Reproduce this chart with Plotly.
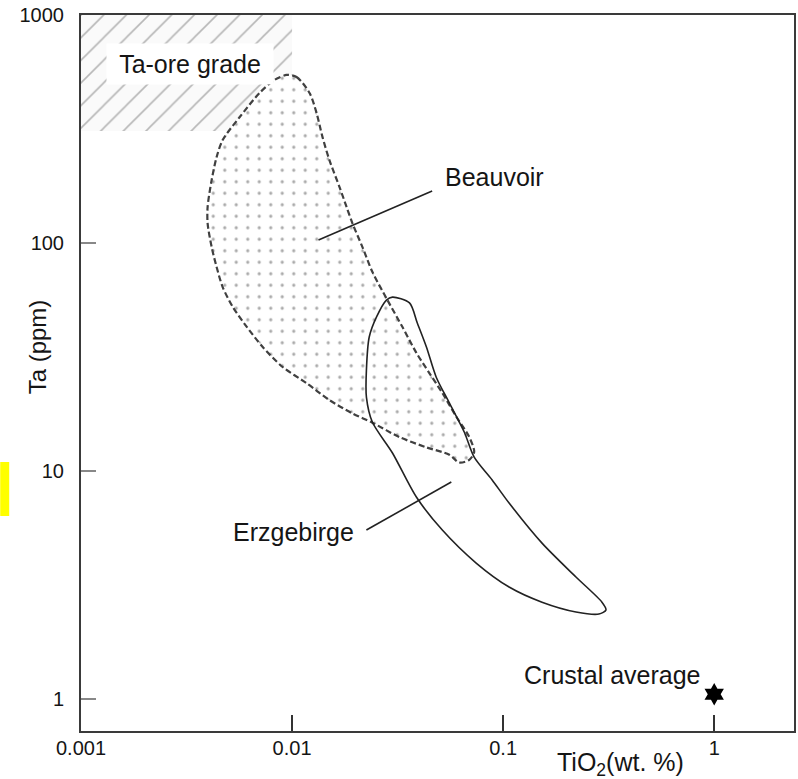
import plotly.graph_objects as go

# ---- data ----
# Ta-ore grade field (TiO2 wt.% , Ta ppm)
ore_tio2 = [0.001, 0.01, 0.01, 0.001, 0.001]
ore_ta = [310, 310, 1000, 1000, 310]

# Beauvoir field outline
beau_tio2 = [0.00942, 0.0105, 0.0121, 0.01306, 0.01393, 0.01503, 0.01678, 0.01812,
             0.01932, 0.02155, 0.02403, 0.0283, 0.0333, 0.0388, 0.0447, 0.0515,
             0.0600, 0.0691, 0.0729, 0.0691, 0.0619, 0.0556, 0.0433, 0.0322,
             0.0240, 0.0193, 0.0150, 0.0117, 0.00902, 0.00726, 0.00610, 0.00524,
             0.00469, 0.00439, 0.00416, 0.00398, 0.00398, 0.00416, 0.00439,
             0.00469, 0.00565, 0.00701, 0.00826, 0.00942]
beau_ta = [546, 535, 455, 372, 292, 231, 176, 144,
           122, 96, 74.6, 56.2, 42.9, 33.0, 26.9, 22.0,
           17.3, 14.1, 12.1, 11.2, 10.9, 11.8, 12.7, 14.1,
           16.3, 17.9, 20.5, 24.3, 28.6, 35.0, 42.9, 52.4,
           64.1, 78.5, 96, 122, 144, 189, 238,
           283, 357, 455, 519, 546]

# Erzgebirge field outline
erz_tio2 = [0.0299, 0.0360, 0.0392, 0.0433, 0.0482, 0.0556, 0.0655, 0.0729,
            0.0887, 0.1067, 0.1528, 0.2213, 0.2939, 0.307, 0.2844, 0.2213,
            0.1528, 0.1067, 0.0745, 0.0515, 0.0388, 0.0299, 0.0240, 0.0225,
            0.0225, 0.0232, 0.0251, 0.0280, 0.0299]
erz_ta = [57.9, 54.6, 44.6, 35.0, 25.8, 19.9, 14.8, 11.5,
          9.14, 7.24, 4.83, 3.43, 2.66, 2.46, 2.36, 2.41,
          2.66, 3.10, 3.95, 5.51, 7.69, 12.0, 16.4, 21.1,
          27.7, 38.7, 47.3, 56.2, 57.9]

# leader lines
beau_ptr_tio2 = [0.01334, 0.0461]
beau_ptr_ta = [103, 169]
erz_ptr_tio2 = [0.0225, 0.0568]
erz_ptr_ta = [5.51, 8.95]

# crustal average
crust_tio2 = [1.0]
crust_ta = [1.05]

x_tickvals = [0.001, 0.01, 0.1, 1]
x_ticktext = ["0.001", "0.01", "0.1", "1"]
y_tickvals = [1, 10, 100, 1000]
y_ticktext = ["1", "10", "100", "1000"]

FONT = "Liberation Sans, Arial, Helvetica, sans-serif"
TXT = "#151515"

fig = go.Figure()

fig.add_trace(go.Scatter(
    x=ore_tio2, y=ore_ta, mode="lines", fill="toself",
    line=dict(width=0, color="rgba(0,0,0,0)"),
    fillpattern=dict(shape="/", size=16, solidity=0.1,
                     fgcolor="#727272", bgcolor="#fafafa"),
    hoverinfo="skip", showlegend=False))

fig.add_trace(go.Scatter(
    x=beau_tio2, y=beau_ta, mode="lines", fill="toself",
    line=dict(width=2.2, color="#404040", dash="6px,3px", shape="spline", smoothing=0.8),
    fillpattern=dict(shape=".", size=11.5, solidity=0.06,
                     fgcolor="#555555", bgcolor="white"),
    hoverinfo="skip", showlegend=False))

fig.add_trace(go.Scatter(
    x=erz_tio2, y=erz_ta, mode="lines",
    line=dict(width=1.6, color="#222222", shape="spline", smoothing=0.8),
    hoverinfo="skip", showlegend=False))

fig.add_trace(go.Scatter(
    x=beau_ptr_tio2, y=beau_ptr_ta, mode="lines",
    line=dict(width=1.6, color="#222222"), hoverinfo="skip", showlegend=False))
fig.add_trace(go.Scatter(
    x=erz_ptr_tio2, y=erz_ptr_ta, mode="lines",
    line=dict(width=1.6, color="#222222"), hoverinfo="skip", showlegend=False))

fig.add_trace(go.Scatter(
    x=crust_tio2, y=crust_ta, mode="markers",
    marker=dict(symbol="hexagram", size=17, color="black"),
    hoverinfo="skip", showlegend=False))

ann_font = dict(family=FONT, size=25, color=TXT)
fig.update_layout(
    width=798, height=779,
    margin=dict(l=81, r=2, t=15, b=48),
    paper_bgcolor="white", plot_bgcolor="white",
    font=dict(family=FONT, color=TXT),
    annotations=[
        dict(text="Ta-ore grade", xref="paper", yref="paper", x=0.1524, y=0.932,
             xanchor="center", yanchor="middle", showarrow=False, font=ann_font,
             bgcolor="white", borderpad=6, width=154),
        dict(text="Beauvoir", xref="paper", yref="paper", x=0.5077, y=0.7737,
             xanchor="left", yanchor="middle", showarrow=False, font=ann_font),
        dict(text="Erzgebirge", xref="paper", yref="paper", x=0.386, y=0.278,
             xanchor="right", yanchor="middle", showarrow=False, font=ann_font),
        dict(text="Crustal average", xref="paper", yref="paper", x=0.8713, y=0.0782,
             xanchor="right", yanchor="middle", showarrow=False, font=ann_font),
        dict(text="Ta (ppm)", xref="paper", yref="paper", x=-0.0615, y=0.536,
             xanchor="center", yanchor="middle", textangle=-90, showarrow=False,
             font=dict(family=FONT, size=24, color=TXT)),
        dict(text="TiO<sub>2</sub>(wt. %)", xref="paper", yref="paper", x=0.757, y=-0.046,
             xanchor="center", yanchor="middle", showarrow=False,
             font=dict(family=FONT, size=25, color=TXT)),
    ],
    shapes=[
        dict(type="rect", xref="paper", yref="paper", x0=-0.1133, x1=-0.1007,
             y0=0.3003, y1=0.3757, fillcolor="#ffff00", line=dict(width=0), layer="above"),
    ],
)

fig.update_xaxes(
    type="log", range=[-3, 0.378], tickvals=x_tickvals, ticktext=x_ticktext,
    showgrid=False, zeroline=False, showline=True, mirror=True,
    linecolor="#3a3a3a", linewidth=2, ticks="inside", ticklen=16, tickwidth=1.5,
    tickcolor="#333333", tickfont=dict(family=FONT, size=20, color=TXT),
    ticklabelstandoff=-2)
fig.update_yaxes(
    type="log", range=[-0.14, 3], tickvals=y_tickvals, ticktext=y_ticktext,
    showgrid=False, zeroline=False, showline=True, mirror=True,
    linecolor="#3a3a3a", linewidth=2, ticks="inside", ticklen=15, tickwidth=2,
    tickcolor="#888888", tickfont=dict(family=FONT, size=20, color=TXT),
    ticklabelstandoff=11)

fig.write_html("out.html", config={"displayModeBar": False},
               post_script="document.body.style.margin='0';document.body.style.overflow='hidden';")
